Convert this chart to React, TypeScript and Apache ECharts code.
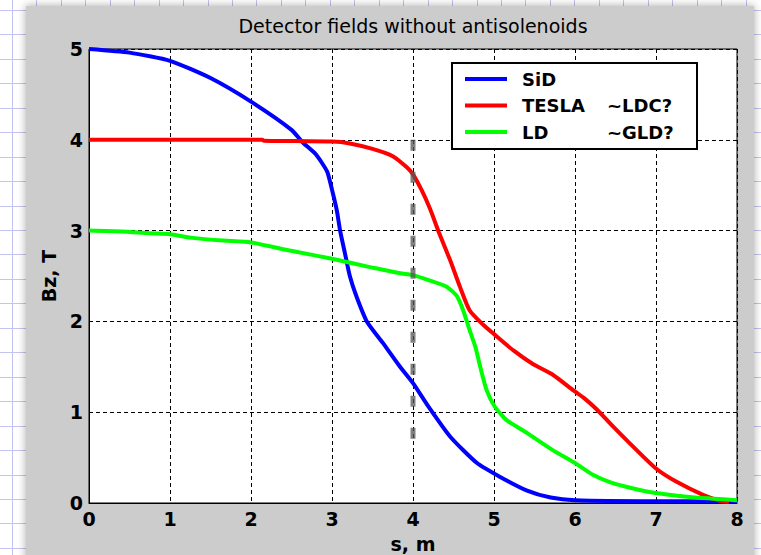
import React, { useEffect, useRef } from "react";
import * as echarts from "echarts";

// ---- data ----
const title = "Detector fields without antisolenoids";
const xName = "s, m";
const yName = "Bz, T";
const xTicks = [0, 8, 1]; // min, max, interval
const yTicks = [0, 5, 1];

const sidS = [0, 0.5, 1, 1.5, 2, 2.5, 2.64, 2.8, 2.94, 3.0, 3.06, 3.1, 3.16, 3.22, 3.3, 3.43, 3.63, 3.84, 4.0, 4.2, 4.46, 4.79, 5.07, 5.4, 5.7, 6.0, 7.0, 8.0];
const sidBz = [5.0, 4.96, 4.87, 4.68, 4.42, 4.11, 3.97, 3.84, 3.65, 3.45, 3.22, 3.0, 2.75, 2.5, 2.28, 2.0, 1.76, 1.5, 1.32, 1.05, 0.73, 0.44, 0.29, 0.14, 0.06, 0.03, 0.02, 0.02];

const teslaS = [0, 2.14, 2.16, 3.0, 3.22, 3.5, 3.75, 3.92, 4.0, 4.11, 4.21, 4.32, 4.46, 4.58, 4.7, 4.87, 5.0, 5.24, 5.48, 5.73, 5.98, 6.12, 6.27, 6.43, 6.64, 7.0, 7.26, 7.58, 7.8, 7.9];
const teslaBz = [4.0, 4.0, 3.99, 3.98, 3.96, 3.9, 3.82, 3.7, 3.62, 3.44, 3.24, 2.98, 2.67, 2.38, 2.12, 1.96, 1.86, 1.68, 1.53, 1.41, 1.24, 1.15, 1.03, 0.88, 0.69, 0.38, 0.23, 0.09, 0.02, 0.01];

const ldS = [0, 0.4, 0.75, 1.0, 1.28, 1.66, 2.0, 2.48, 3.0, 3.51, 3.84, 4.0, 4.21, 4.42, 4.54, 4.62, 4.7, 4.77, 4.83, 4.91, 5.01, 5.16, 5.41, 5.73, 6.0, 6.22, 6.43, 6.72, 7.0, 7.38, 7.67, 8.0];
const ldBz = [3.0, 2.99, 2.97, 2.96, 2.92, 2.89, 2.87, 2.78, 2.69, 2.59, 2.53, 2.51, 2.45, 2.38, 2.28, 2.12, 1.9, 1.72, 1.5, 1.24, 1.06, 0.91, 0.77, 0.58, 0.44, 0.31, 0.23, 0.16, 0.11, 0.07, 0.05, 0.03];

const markerS = [4, 4];
const markerBz = [4.0, 0.7];

const seriesNames = ["SiD", "TESLA", "LD"];
const seriesSuffix = ["", "~LDC?", "~GLD?"];
const seriesColors = ["#0000ff", "#ff0000", "#00ff00"];

const FONT = "DejaVu Sans";

function pairs(xs: number[], ys: number[]) {
  return xs.map((x, i) => [x, ys[i]]);
}

export default function App() {
  const ref = useRef<HTMLDivElement>(null);
  useEffect(() => {
    document.body.style.margin = "0";
    const chart = echarts.init(ref.current!, null, { renderer: "svg" });

    // grid paper background
    const paper: any[] = [];
    for (let x = 12; x < 761; x += 24.45) {
      paper.push({ type: "line", z: -20, shape: { x1: Math.round(x) + 0.5, y1: 0, x2: Math.round(x) + 0.5, y2: 555 }, style: { stroke: "#c4c4f0", lineWidth: 1 } });
    }
    for (let y = 10; y < 555; y += 24.45) {
      paper.push({ type: "line", z: -20, shape: { x1: 0, y1: Math.round(y) + 0.5, x2: 761, y2: Math.round(y) + 0.5 }, style: { stroke: "#c4c4f0", lineWidth: 1 } });
    }

    const sets = [pairs(sidS, sidBz), pairs(teslaS, teslaBz), pairs(ldS, ldBz)];

    chart.setOption({
      animation: false,
      backgroundColor: "#ffffff",
      graphic: {
        elements: [
          ...paper,
          {
            type: "rect",
            z: -10,
            shape: { x: 26, y: 6, width: 728, height: 560 },
            style: { fill: "#cccccc", shadowBlur: 8, shadowColor: "rgba(0,0,0,0.35)" },
          },
        ],
      },
      title: {
        text: title,
        left: 413,
        textAlign: "center",
        top: 16,
        padding: 0,
        textStyle: { fontFamily: FONT, fontSize: 19, fontWeight: "normal", color: "#000" },
      },
      grid: {
        left: 89,
        top: 49,
        right: 24,
        bottom: 52,
        show: true,
        backgroundColor: "#ffffff",
        borderColor: "#000",
        borderWidth: 1,
        containLabel: false,
        outerBoundsMode: "none",
      },
      legend: {
        data: seriesNames,
        orient: "vertical",
        left: 452,
        top: 63,
        padding: [6, 10, 7, 13],
        itemGap: 6.5,
        itemWidth: 42,
        itemHeight: 4,
        icon: "rect",
        backgroundColor: "#ffffff",
        borderColor: "#000",
        borderWidth: 2,
        selectedMode: false,
        textStyle: {
          fontFamily: FONT,
          fontSize: 18,
          fontWeight: "bold",
          color: "#000",
          lineHeight: 20,
          rich: {
            s: { width: 10, fontFamily: FONT, fontSize: 18, lineHeight: 20 },
            a: { width: 85, fontFamily: FONT, fontSize: 18, fontWeight: "bold", lineHeight: 20, color: "#000" },
            b: { width: 80, fontFamily: FONT, fontSize: 18, fontWeight: "bold", lineHeight: 20, color: "#000" },
          },
        },
        formatter: (name: string) => {
          const i = seriesNames.indexOf(name);
          const suf = seriesSuffix[i];
          return suf ? `{s| }{a|${name}}{b|${suf}}` : `{s| }{a|${name}}`;
        },
      },
      xAxis: {
        type: "value",
        min: xTicks[0],
        max: xTicks[1],
        interval: xTicks[2],
        name: xName,
        nameLocation: "middle",
        nameGap: 31,
        nameTextStyle: { fontFamily: FONT, fontSize: 19, fontWeight: "bold", color: "#000" },
        axisLine: { show: true, lineStyle: { color: "#000", width: 1 } },
        axisTick: { show: false },
        axisLabel: { margin: 6, fontFamily: FONT, fontSize: 19, fontWeight: "bold", color: "#000" },
        splitLine: { show: true, lineStyle: { color: "#000", width: 1, type: [4, 3] } },
      },
      yAxis: {
        type: "value",
        min: yTicks[0],
        max: yTicks[1],
        interval: yTicks[2],
        name: yName,
        nameLocation: "middle",
        nameRotate: 90,
        nameGap: 30,
        nameTextStyle: { fontFamily: FONT, fontSize: 19, fontWeight: "bold", color: "#000" },
        axisLine: { show: true, lineStyle: { color: "#000", width: 1 } },
        axisTick: { show: false },
        axisLabel: { margin: 6, fontFamily: FONT, fontSize: 19, fontWeight: "bold", color: "#000" },
        splitLine: { show: true, lineStyle: { color: "#000", width: 1, type: [4, 3] } },
      },
      series: [
        ...seriesNames.map((name, i) => ({
          type: "line",
          name,
          data: sets[i],
          showSymbol: false,
          symbol: "none",
          smooth: 0.2,
          color: seriesColors[i],
          lineStyle: { color: seriesColors[i], width: 4 },
        })),
        {
          type: "line",
          name: "marker",
          data: pairs(markerS, markerBz),
          symbol: "none",
          lineStyle: { color: "rgba(85,85,85,0.75)", width: 5, type: [11, 21], cap: "butt" },
        },
      ],
    });
    return () => chart.dispose();
  }, []);
  return <div ref={ref} style={{ position: "absolute", left: 0, top: 0, width: 761, height: 555 }} />;
}
